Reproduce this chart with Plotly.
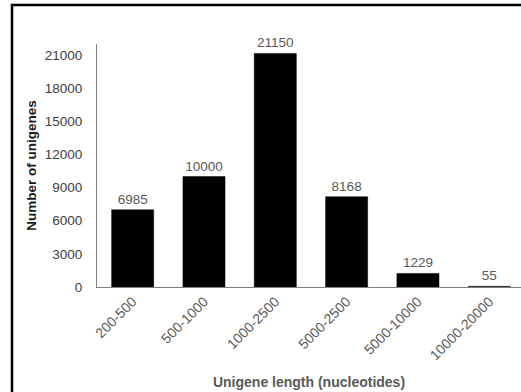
import plotly.graph_objects as go

categories = ["200-500", "500-1000", "1000-2500", "5000-2500", "5000-10000", "10000-20000"]
values = [6985, 10000, 21150, 8168, 1229, 55]
y_ticks = [0, 3000, 6000, 9000, 12000, 15000, 18000, 21000]

FONT = "Liberation Sans, Arial, sans-serif"
GRAY = "#595959"

fig = go.Figure(
    go.Bar(
        x=categories,
        y=values,
        text=[str(v) for v in values],
        textposition="outside",
        textfont=dict(family=FONT, size=13.5, color=GRAY),
        marker=dict(color="black", line=dict(color="black", width=0.5)),
        cliponaxis=False,
        hoverinfo="skip",
    )
)

L, R, T, B = 97, 0, 44, 105
W, H = 521, 392
pw = W - L - R
ph = H - T - B

def px_x(px):
    return (px - L) / pw

def px_y(py):
    return (H - B - py) / ph

fig.update_layout(
    width=W,
    height=H,
    margin=dict(l=L, r=R, t=T, b=B, pad=0),
    paper_bgcolor="white",
    plot_bgcolor="white",
    showlegend=False,
    bargap=0.41,
    font=dict(family=FONT, size=13.5, color=GRAY),
    xaxis=dict(
        range=[-0.5, 5.445],
        tickangle=-45,
        tickfont=dict(family=FONT, size=14, color=GRAY),
        showline=True,
        linecolor="#7f7f7f",
        linewidth=1,
        showgrid=False,
        ticks="",
        title=dict(
            text="<b>Unigene length (nucleotides)</b>",
            font=dict(family=FONT, size=14, color=GRAY),
            standoff=14,
        ),
    ),
    yaxis=dict(
        range=[0, 22000],
        tickvals=y_ticks,
        ticktext=[str(v) for v in y_ticks],
        tickfont=dict(family=FONT, size=13.5, color="#404040"),
        showline=True,
        linecolor="#7f7f7f",
        linewidth=1,
        showgrid=False,
        zeroline=False,
        ticks="",
        ticklabelstandoff=11,
        title=dict(
            text="<b>Number of unigenes</b>",
            font=dict(family=FONT, size=13.5, color="#1a1a1a"),
            standoff=5,
        ),
    ),
    shapes=[
        dict(type="line", xref="paper", yref="paper",
             x0=px_x(11), x1=px_x(540), y0=px_y(5), y1=px_y(5),
             line=dict(color="black", width=2.5)),
        dict(type="line", xref="paper", yref="paper",
             x0=px_x(12), x1=px_x(12), y0=px_y(4), y1=px_y(400),
             line=dict(color="black", width=2.5)),
    ],
)

fig.write_html(
    "out.html",
    config={"displayModeBar": False},
    post_script=(
        "document.documentElement.style.overflow='hidden';"
        "document.body.style.margin='0';"
        "document.body.style.overflow='hidden';"
    ),
)
